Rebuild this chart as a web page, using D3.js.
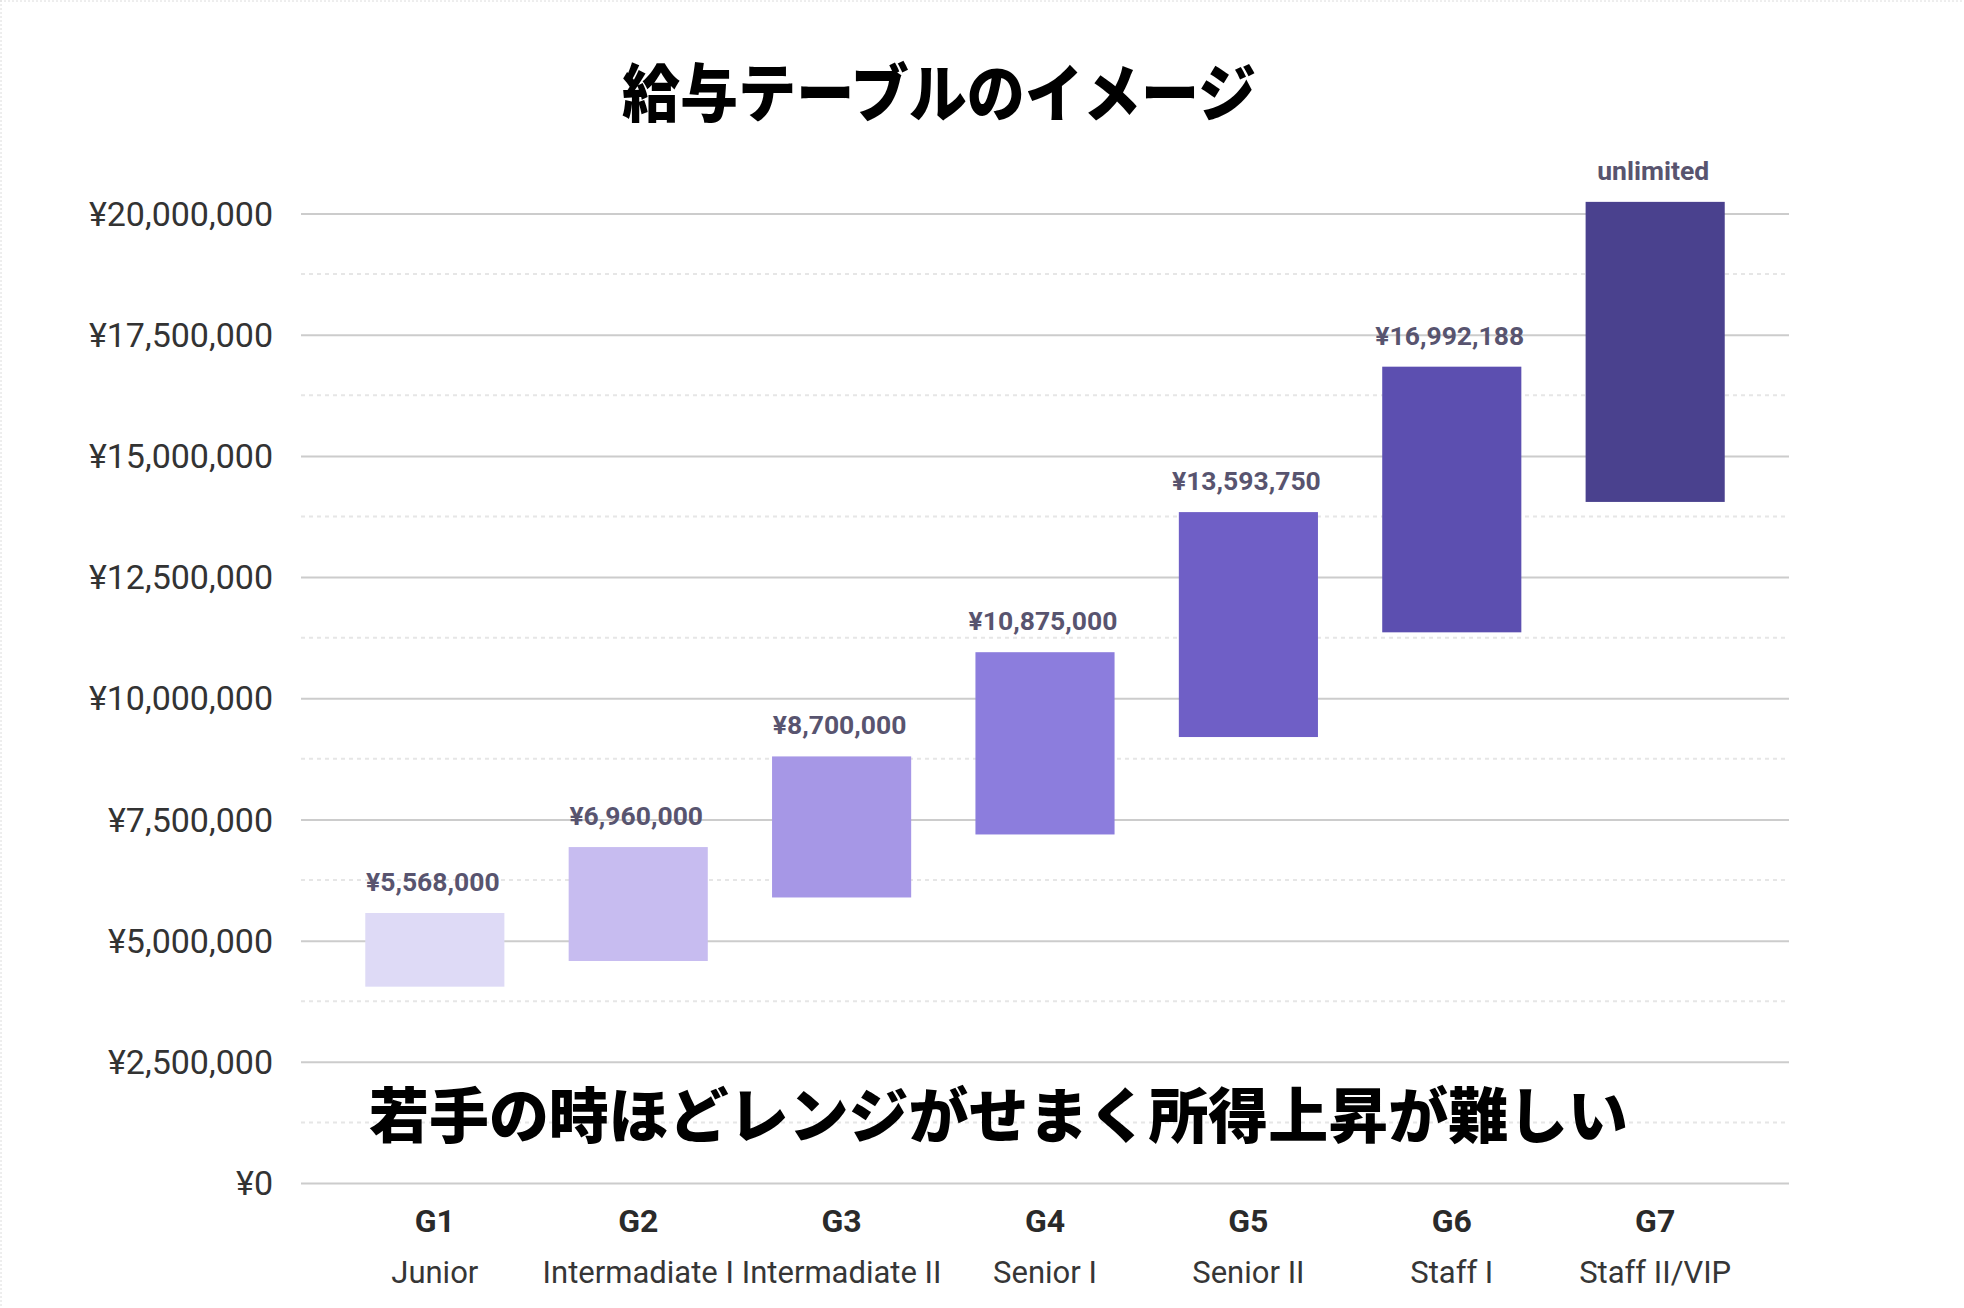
<!DOCTYPE html>
<html>
<head>
<meta charset="utf-8">
<script src="https://cdn.jsdelivr.net/npm/d3@7"></script>
<style>
  html, body { margin: 0; padding: 0; background: #fff; }
  svg { display: block; }
</style>
</head>
<body>
<svg id="chart" width="1964" height="1308"></svg>
<script>
// ---- data ----
const grades = ["G1", "G2", "G3", "G4", "G5", "G6", "G7"];
const titles = ["Junior", "Intermadiate I", "Intermadiate II", "Senior I", "Senior II", "Staff I", "Staff II/VIP"];
const rangeMin = [4050000, 4580000, 5890000, 7190000, 9200000, 11360000, 14050000];
const rangeMax = [5570000, 6930000, 8800000, 10950000, 13840000, 16840000, 20240000];
const valueLabels = ["¥5,568,000", "¥6,960,000", "¥8,700,000", "¥10,875,000", "¥13,593,750", "¥16,992,188", "unlimited"];
const barColors = ["#dedaf6", "#c7bcf0", "#a697e6", "#8c7ddd", "#6f5fc6", "#5c4fb0", "#4a418e"];
const yTicks = [0, 2500000, 5000000, 7500000, 10000000, 12500000, 15000000, 17500000, 20000000];
const yMinorTicks = [1250000, 3750000, 6250000, 8750000, 11250000, 13750000, 16250000, 18750000];
const chartTitle = "給与テーブルのイメージ";
const note = "若手の時ほどレンジがせまく所得上昇が難しい";

// ---- layout ----
const svg = d3.select("#chart");
const left = 301, right = 1789;
const y = d3.scaleLinear().domain([0, 20000000]).range([1183, 213.5]);
const x = d3.scaleBand().domain(grades).range([left, right]).padding(0.316);
const latin = "Roboto, 'Noto Sans', sans-serif";
const cjk = "'Noto Sans CJK JP', 'Noto Sans CJK SC', sans-serif";

// light frame on left/top
svg.append("line").attr("x1", 1).attr("x2", 1).attr("y1", 0).attr("y2", 1308)
  .attr("stroke", "#dcdcdc").attr("stroke-dasharray", "2,2");
svg.append("line").attr("x1", 0).attr("x2", 1964).attr("y1", 1).attr("y2", 1)
  .attr("stroke", "#dcdcdc").attr("stroke-dasharray", "2,2");

// minor dotted gridlines
svg.append("g").selectAll("line").data(yMinorTicks).join("line")
  .attr("x1", left).attr("x2", right)
  .attr("y1", d => y(d)).attr("y2", d => y(d))
  .attr("stroke", "#e6e6e6").attr("stroke-width", 2).attr("stroke-dasharray", "4,4");

// y axis with major gridlines
const yAxis = d3.axisLeft(y)
  .tickValues(yTicks)
  .tickSize(-(right - left))
  .tickPadding(28)
  .tickFormat(d => "¥" + d3.format(",")(d));
const gy = svg.append("g").attr("transform", `translate(${left},0)`).call(yAxis);
gy.select(".domain").remove();
gy.selectAll(".tick line").attr("stroke", "#cccccc").attr("stroke-width", 2);
gy.selectAll(".tick text")
  .attr("font-family", latin).attr("font-size", 34).attr("fill", "#333333")
  .attr("dy", "0.34em");

// bars
svg.append("g").selectAll("rect").data(grades).join("rect")
  .attr("x", d => x(d))
  .attr("width", x.bandwidth())
  .attr("y", (d, i) => y(rangeMax[i]))
  .attr("height", (d, i) => y(rangeMin[i]) - y(rangeMax[i]))
  .attr("fill", (d, i) => barColors[i]);

// value labels
svg.append("g").selectAll("text").data(grades).join("text")
  .attr("x", d => x(d) + x.bandwidth() / 2 - 2)
  .attr("y", (d, i) => y(rangeMax[i]) - 22)
  .attr("text-anchor", "middle")
  .attr("font-family", latin).attr("font-weight", 700).attr("font-size", 26.5)
  .attr("fill", "#58546f")
  .text((d, i) => valueLabels[i]);

// category labels
const gx = svg.append("g");
gx.selectAll("text.grade").data(grades).join("text").attr("class", "grade")
  .attr("x", d => x(d) + x.bandwidth() / 2).attr("y", 1232)
  .attr("text-anchor", "middle")
  .attr("font-family", latin).attr("font-weight", 700).attr("font-size", 32)
  .attr("fill", "#2a2a2a").text(d => d);
gx.selectAll("text.role").data(grades).join("text").attr("class", "role")
  .attr("x", d => x(d) + x.bandwidth() / 2).attr("y", 1283)
  .attr("text-anchor", "middle")
  .attr("font-family", latin).attr("font-size", 31)
  .attr("fill", "#363636").text((d, i) => titles[i]);

// title
svg.append("text")
  .attr("x", 622).attr("y", 116)
  .attr("textLength", 634).attr("lengthAdjust", "spacingAndGlyphs")
  .attr("font-family", cjk).attr("font-weight", 900).attr("font-size", 63)
  .attr("fill", "#000").text(chartTitle);

// note
svg.append("text")
  .attr("x", 369).attr("y", 1138)
  .attr("textLength", 1259).attr("lengthAdjust", "spacingAndGlyphs")
  .attr("font-family", cjk).attr("font-weight", 900).attr("font-size", 60)
  .attr("fill", "#000").text(note);
</script>
</body>
</html>
